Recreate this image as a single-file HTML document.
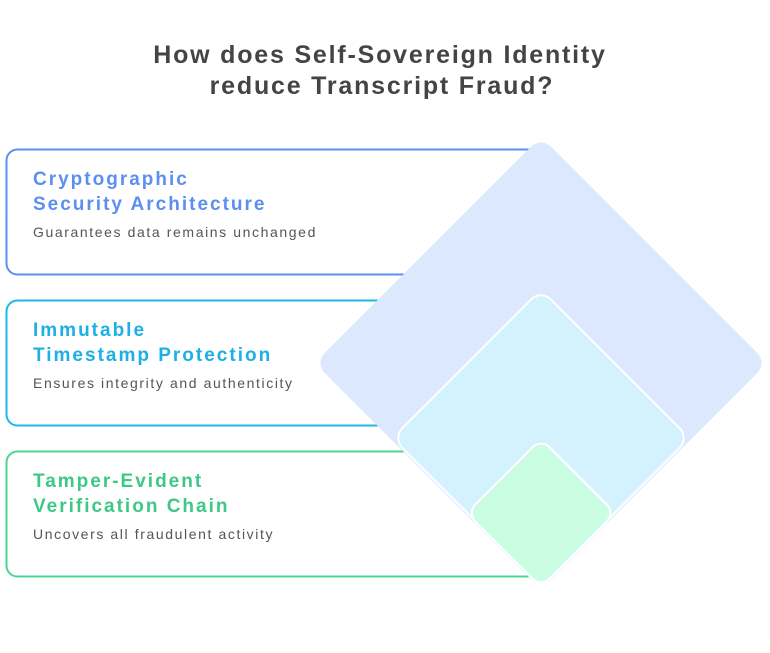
<!DOCTYPE html>
<html><head><meta charset="utf-8"><style>
body{margin:0;background:#fff;width:770px;height:648px;overflow:hidden;font-family:"Liberation Sans",sans-serif}
</style></head><body>
<svg width="770" height="648" viewBox="0 0 770 648">
<g font-family="Liberation Sans, sans-serif" font-weight="bold" font-size="25" fill="#444" text-anchor="middle" letter-spacing="1.8">
<text x="380" y="63">How does Self-Sovereign Identity</text>
<text x="382" y="94">reduce Transcript Fraud?</text>
</g>
<g>
<rect x="6.5" y="149.5" width="580" height="125" rx="11" fill="#fff" stroke="#5b8ff0" stroke-width="2"/>
<text x="33" y="185" font-size="19" font-weight="bold" fill="#5b8ff0" letter-spacing="2">Cryptographic</text>
<text x="33" y="210" font-size="19" font-weight="bold" fill="#5b8ff0" letter-spacing="2">Security Architecture</text>
<text x="33" y="237" font-size="14" fill="#555" letter-spacing="1.6">Guarantees data remains unchanged</text>
</g>
<g>
<rect x="6.5" y="300.5" width="580" height="125" rx="11" fill="#fff" stroke="#1cb8ec" stroke-width="2"/>
<text x="33" y="336" font-size="19" font-weight="bold" fill="#1cb0e4" letter-spacing="2">Immutable</text>
<text x="33" y="361" font-size="19" font-weight="bold" fill="#1cb0e4" letter-spacing="2">Timestamp Protection</text>
<text x="33" y="388" font-size="14" fill="#555" letter-spacing="1.6">Ensures integrity and authenticity</text>
</g>
<g>
<rect x="6.5" y="451.5" width="580" height="125" rx="11" fill="#fff" stroke="#4cd496" stroke-width="2"/>
<text x="33" y="487" font-size="19" font-weight="bold" fill="#3cc886" letter-spacing="2">Tamper-Evident</text>
<text x="33" y="512" font-size="19" font-weight="bold" fill="#3cc886" letter-spacing="2">Verification Chain</text>
<text x="33" y="539" font-size="14" fill="#555" letter-spacing="1.6">Uncovers all fraudulent activity</text>
</g>
<rect x="541" y="140" width="229" height="450" fill="#fff"/>
<rect x="381" y="203" width="320" height="320" rx="14" fill="#dbe8fd" transform="rotate(45 541 363)"/>
<rect x="436" y="333" width="210" height="210" rx="14" fill="#d3f2fd" stroke="#fff" stroke-width="2" transform="rotate(45 541 438)"/>
<rect x="488.5" y="460.5" width="105" height="105" rx="12" fill="#cbfde3" stroke="#fff" stroke-width="2" transform="rotate(45 541 513)"/>
</svg>
</body></html>
